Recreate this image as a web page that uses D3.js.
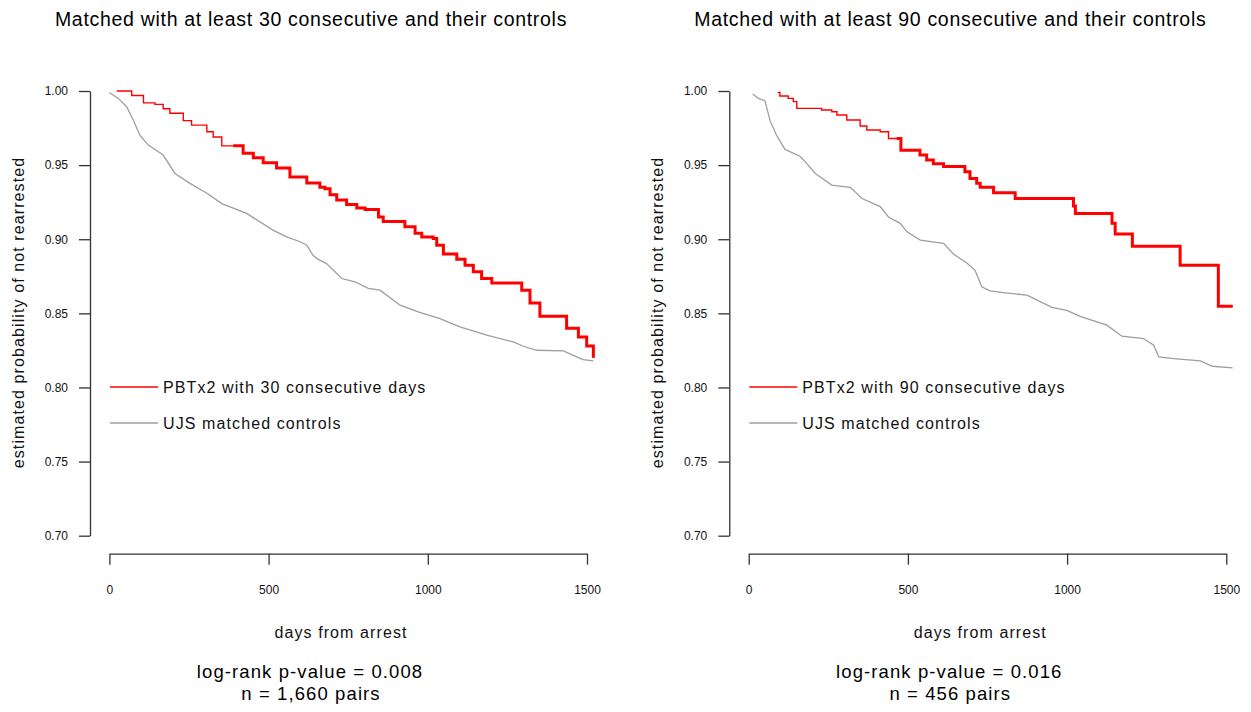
<!DOCTYPE html>
<html>
<head>
<meta charset="utf-8">
<script src="https://cdn.jsdelivr.net/npm/d3@7"></script>
<style>
  html, body { margin: 0; padding: 0; background: #fff; }
  svg { display: block; font-family: "Liberation Sans", Arial, sans-serif; }
  .tick text { font-size: 12px; fill: #111; }
  .domain, .tick line { stroke: #333; stroke-width: 1.3; }
</style>
</head>
<body>
<svg id="chart" width="1251" height="712"></svg>
<script>
// panel 1: at least 30 consecutive days (days from arrest, survival)
var days30 = [23, 70, 107, 143, 169, 190, 232, 258, 306, 326, 353, 420, 452, 483, 525, 567, 620, 661, 677, 693, 714, 745, 777, 803, 845, 860, 928, 960, 981, 1017, 1028, 1049, 1091, 1117, 1143, 1169, 1201, 1295, 1321, 1352, 1436, 1473, 1499, 1520];
var surv30 = [1.0, 0.997, 0.992, 0.991, 0.988, 0.985, 0.980, 0.977, 0.9725, 0.969, 0.963, 0.958, 0.955, 0.9516, 0.948, 0.942, 0.938, 0.935, 0.934, 0.930, 0.9265, 0.9235, 0.921, 0.920, 0.915, 0.912, 0.9085, 0.904, 0.9015, 0.9005, 0.896, 0.890, 0.8865, 0.8825, 0.878, 0.8735, 0.8705, 0.8655, 0.857, 0.848, 0.840, 0.834, 0.828, 0.820];
var ctrlDays30 = [0, 28, 54, 75, 96, 122, 169, 206, 253, 306, 353, 431, 515, 557, 599, 620, 640, 656, 682, 730, 771, 813, 850, 913, 970, 1038, 1101, 1185, 1269, 1300, 1342, 1426, 1457, 1488, 1520];
var ctrlSurv30 = [0.999, 0.995, 0.9894, 0.9804, 0.970, 0.9635, 0.9568, 0.9444, 0.9377, 0.931, 0.924, 0.9174, 0.906, 0.9016, 0.8983, 0.896, 0.889, 0.8864, 0.8836, 0.8735, 0.8713, 0.8668, 0.8656, 0.8555, 0.851, 0.8465, 0.8409, 0.8353, 0.8307, 0.8278, 0.8251, 0.8247, 0.8217, 0.8188, 0.8179];

// panel 2: at least 90 consecutive days
var days90 = [91, 98, 124, 140, 151, 229, 261, 277, 308, 350, 371, 413, 439, 478, 538, 559, 580, 612, 679, 695, 716, 727, 769, 837, 1020, 1026, 1141, 1151, 1205, 1355, 1475, 1520];
var surv90 = [0.999, 0.9966, 0.995, 0.9928, 0.9883, 0.9872, 0.986, 0.9838, 0.9804, 0.9764, 0.9737, 0.9725, 0.968, 0.960, 0.9568, 0.9534, 0.951, 0.949, 0.9455, 0.941, 0.9377, 0.935, 0.9313, 0.9275, 0.9224, 0.9174, 0.9107, 0.9035, 0.8953, 0.8825, 0.8548, 0.8548];
var ctrlDays90 = [13, 30, 51, 67, 88, 114, 161, 182, 209, 261, 319, 356, 413, 439, 476, 497, 539, 612, 643, 685, 711, 732, 758, 806, 874, 952, 999, 1041, 1125, 1172, 1240, 1272, 1288, 1335, 1419, 1456, 1520];
var ctrlSurv90 = [0.998, 0.995, 0.9935, 0.980, 0.970, 0.9606, 0.956, 0.9512, 0.9444, 0.9365, 0.935, 0.9275, 0.922, 0.915, 0.9107, 0.905, 0.8994, 0.8972, 0.890, 0.884, 0.879, 0.8679, 0.8652, 0.8638, 0.8623, 0.854, 0.852, 0.848, 0.842, 0.8346, 0.833, 0.8285, 0.8206, 0.8195, 0.8179, 0.8143, 0.8132];

var xTicks = [0, 500, 1000, 1500];
var yTicks = [0.70, 0.75, 0.80, 0.85, 0.90, 0.95, 1.00];

var panels = [
  { left: 0, title: 'Matched with at least 30 consecutive and their controls',
    legend: 'PBTx2 with 30 consecutive days', pval: 'log-rank p-value = 0.008', n: 'n = 1,660 pairs',
    days: days30, surv: surv30, cDays: ctrlDays30, cSurv: ctrlSurv30, thickFrom: 389 },
  { left: 639.3, title: 'Matched with at least 90 consecutive and their controls',
    legend: 'PBTx2 with 90 consecutive days', pval: 'log-rank p-value = 0.016', n: 'n = 456 pairs',
    days: days90, surv: surv90, cDays: ctrlDays90, cSurv: ctrlSurv90, thickFrom: 465 }
];

var svg = d3.select('#chart');

panels.forEach(function (p) {
  var g = svg.append('g').attr('transform', 'translate(' + p.left + ',0)');
  var axisX = 90;

  var x = d3.scaleLinear().domain([0, 1500]).range([axisX + 19.4, axisX + 497]);
  var y = d3.scaleLinear().domain([0.70, 1.00]).range([535.7, 91]);

  g.append('g')
    .attr('transform', 'translate(' + axisX + ',0)')
    .call(d3.axisLeft(y).tickValues(yTicks).tickFormat(d3.format('.2f'))
      .tickSizeInner(11).tickSizeOuter(0).tickPadding(11));

  g.append('g')
    .attr('transform', 'translate(0,553.7)')
    .call(d3.axisBottom(x).tickValues(xTicks).tickFormat(d3.format('d'))
      .tickSizeInner(11).tickSizeOuter(0).tickPadding(20.7));

  g.selectAll('.tick text').attr('fill', '#111');

  // control curve
  var ctrl = p.cDays.map(function (d, i) { return [d, p.cSurv[i]]; });
  var line = d3.line().x(function (d) { return x(d[0]); }).y(function (d) { return y(d[1]); });
  g.append('path').datum(ctrl)
    .attr('d', line)
    .attr('fill', 'none').attr('stroke', '#9e9e9e').attr('stroke-width', 1.3);

  // treated curve (Kaplan-Meier steps)
  var km = p.days.map(function (d, i) { return [d, p.surv[i]]; });
  var step = d3.line().curve(d3.curveStepAfter)
    .x(function (d) { return x(d[0]); }).y(function (d) { return y(d[1]); });
  g.append('path').datum(km)
    .attr('d', step)
    .attr('fill', 'none').attr('stroke', '#ff0000').attr('stroke-width', 1.4);

  // dense censoring marks make the later part of the curve look heavy
  var idx = d3.bisectLeft(p.days, p.thickFrom);
  var heavy = [[p.thickFrom, p.surv[Math.max(idx - 1, 0)]]].concat(km.slice(idx));
  g.append('path').datum(heavy)
    .attr('d', step)
    .attr('fill', 'none').attr('stroke', '#ff0000').attr('stroke-width', 3);

  // legend
  var lg = [{ label: p.legend, color: '#ff0000', yy: 387 }, { label: 'UJS matched controls', color: '#9e9e9e', yy: 423 }];
  lg.forEach(function (d) {
    g.append('line').attr('x1', 110).attr('x2', 158).attr('y1', d.yy).attr('y2', d.yy)
      .attr('stroke', d.color).attr('stroke-width', 1.4);
    g.append('text').attr('x', 163).attr('y', d.yy + 6)
      .style('font-size', '16px').style('letter-spacing', '1.1px').attr('fill', '#111')
      .text(d.label);
  });

  // axis titles
  g.append('text').attr('x', 341).attr('y', 638).attr('text-anchor', 'middle')
    .style('font-size', '16px').style('letter-spacing', '1.1px').attr('fill', '#111')
    .text('days from arrest');
  g.append('text').attr('transform', 'translate(24,312.5) rotate(-90)').attr('text-anchor', 'middle')
    .style('font-size', '16px').style('letter-spacing', '1.1px').attr('fill', '#111')
    .text('estimated probability of not rearrested');

  // title and notes
  g.append('text').attr('x', 311).attr('y', 26).attr('text-anchor', 'middle')
    .style('font-size', '19.5px').style('letter-spacing', '0.7px').attr('fill', '#000')
    .text(p.title);
  g.append('text').attr('x', 310).attr('y', 678).attr('text-anchor', 'middle')
    .style('font-size', '18.5px').style('letter-spacing', '1.1px').attr('fill', '#000')
    .text(p.pval);
  g.append('text').attr('x', 311).attr('y', 700).attr('text-anchor', 'middle')
    .style('font-size', '18.5px').style('letter-spacing', '1.1px').attr('fill', '#000')
    .text(p.n);
});
</script>
</body>
</html>
